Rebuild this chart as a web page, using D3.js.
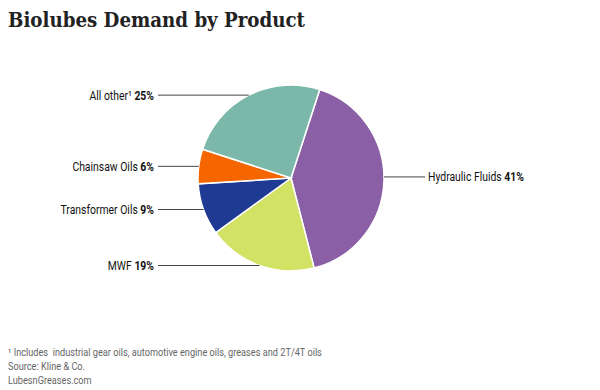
<!DOCTYPE html>
<html><head><meta charset="utf-8">
<script src="https://cdn.jsdelivr.net/npm/d3@7"></script>
<style>
body{margin:0;background:#fff;}
svg{display:block;}
.lbl{font-family:Roboto,"Liberation Sans",sans-serif;font-size:13px;fill:#111;}
.foot{font-family:Roboto,"Liberation Sans",sans-serif;font-size:10.5px;fill:#666;white-space:pre;}
</style></head>
<body><svg id="c" width="600" height="390"></svg>
<script>
const categories = ["Hydraulic Fluids","MWF","Transformer Oils","Chainsaw Oils","All other¹"];
const values = [41,19,9,6,25];
const colors = ["#8a5fa5","#d1e264","#1e3a92","#f56500","#7cb8a9"];
const title = "Biolubes Demand by Product";
const footnotes = ["¹ Includes  industrial gear oils, automotive engine oils, greases and 2T/4T oils","Source: Kline & Co.","LubesnGreases.com"];

const svg = d3.select("#c");
svg.append("text").attr("x",8).attr("y",27).text(title)
  .attr("font-family","'DejaVu Serif',serif").attr("font-weight","bold")
  .attr("font-size",20).attr("fill","#222").attr("textLength",297).attr("lengthAdjust","spacingAndGlyphs");

const cx=291, cy=178, r=93;
const a0 = 18*Math.PI/180;
const pie = d3.pie().sort(null).startAngle(a0).endAngle(a0+2*Math.PI);
const arcs = pie(values);
const arc = d3.arc().innerRadius(0).outerRadius(r);
const g = svg.append("g").attr("transform",`translate(${cx},${cy})`);
g.selectAll("path").data(arcs).join("path").attr("d",arc)
  .attr("fill",(d,i)=>colors[i]).attr("stroke","#fff").attr("stroke-width",1.5);

const kx = 0.80;
arcs.forEach((d,i)=>{
  const m=(d.startAngle+d.endAngle)/2;
  const px = r*Math.sin(m), py = -r*Math.cos(m);
  const y = cy+py - (i===0?4:0);
  const right = px>0;
  const xEdge = cx + (i===0 ? r : px);
  const x2 = right ? 425 : 158;
  svg.append("line").attr("x1",xEdge).attr("x2",x2).attr("y1",y).attr("y2",y)
    .attr("stroke","#444").attr("stroke-width",1);
  const t = svg.append("text").attr("class","lbl")
    .attr("transform",`translate(${right?428:154},${y+4.5}) scale(${kx},1)`)
    .attr("text-anchor",right?"start":"end");
  t.append("tspan").text(categories[i]+" ");
  t.append("tspan").attr("font-weight","bold").text(values[i]+"%");
});

footnotes.forEach((f,i)=>{
  svg.append("text").attr("class","foot")
    .attr("transform",`translate(8,${356+i*14}) scale(0.875,1)`).text(f);
});
</script></body></html>
